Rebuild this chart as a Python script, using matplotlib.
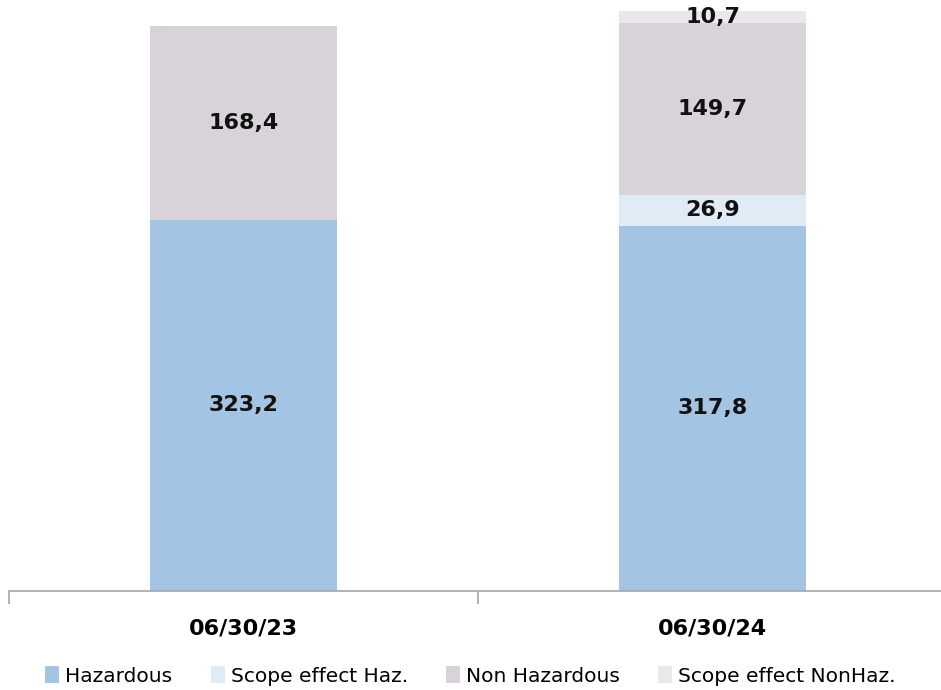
import numpy as np
import matplotlib.pyplot as plt

# --- data ---
categories = ["06/30/23", "06/30/24"]
hazardous = [323.2, 317.8]
scope_haz = [0.0, 26.9]
non_hazardous = [168.4, 149.7]
scope_nonhaz = [0.0, 10.7]

series = [
    ("Hazardous", hazardous, "#a3c4e2"),
    ("Scope effect Haz.", scope_haz, "#e0ebf5"),
    ("Non Hazardous", non_hazardous, "#d8d3d9"),
    ("Scope effect NonHaz.", scope_nonhaz, "#ebe8ec"),
]

plt.rcParams['font.family'] = ['DejaVu Sans']

fig = plt.figure(figsize=(9.41, 6.90), dpi=100)
ax = fig.add_axes([9 / 941, 1 - 591 / 690, 938 / 941, 591 / 690])

x = np.arange(len(categories))
bottom = np.zeros(len(categories))
handles = []
for name, vals, color in series:
    vals = np.array(vals)
    bars = ax.bar(x, vals, width=0.4, bottom=bottom, color=color, label=name)
    handles.append(bars)
    for xi, v, b in zip(x, vals, bottom):
        if v > 0:
            ax.text(xi, b + v / 2, f"{v:.1f}".replace(".", ","), ha='center', va='center',
                    fontsize=16, fontweight='bold', color='#111111')
    bottom += vals

ax.set_xlim(-0.5, 1.5)
ax.set_ylim(0, 514.4)
ax.set_yticks([])
for s in ['top', 'right', 'left']:
    ax.spines[s].set_visible(False)
ax.spines['bottom'].set_color('#a6a6a6')
ax.spines['bottom'].set_linewidth(1.2)

ax.set_xticks(x)
ax.set_xticklabels(categories, fontsize=16, fontweight='bold')
ax.tick_params(axis='x', which='major', length=0, pad=20)
ax.set_xticks([-0.5, 0.5, 1.5], minor=True)
ax.tick_params(axis='x', which='minor', length=9, color='#a6a6a6', width=1.2)

fig.legend(handles=handles, loc='lower center', ncol=4, frameon=False,
           bbox_to_anchor=(0.5, -0.02), fontsize=14.5, handlelength=0.7, handleheight=0.9,
           handletextpad=0.3, columnspacing=1.9)

plt.savefig("out.png", dpi=100)
